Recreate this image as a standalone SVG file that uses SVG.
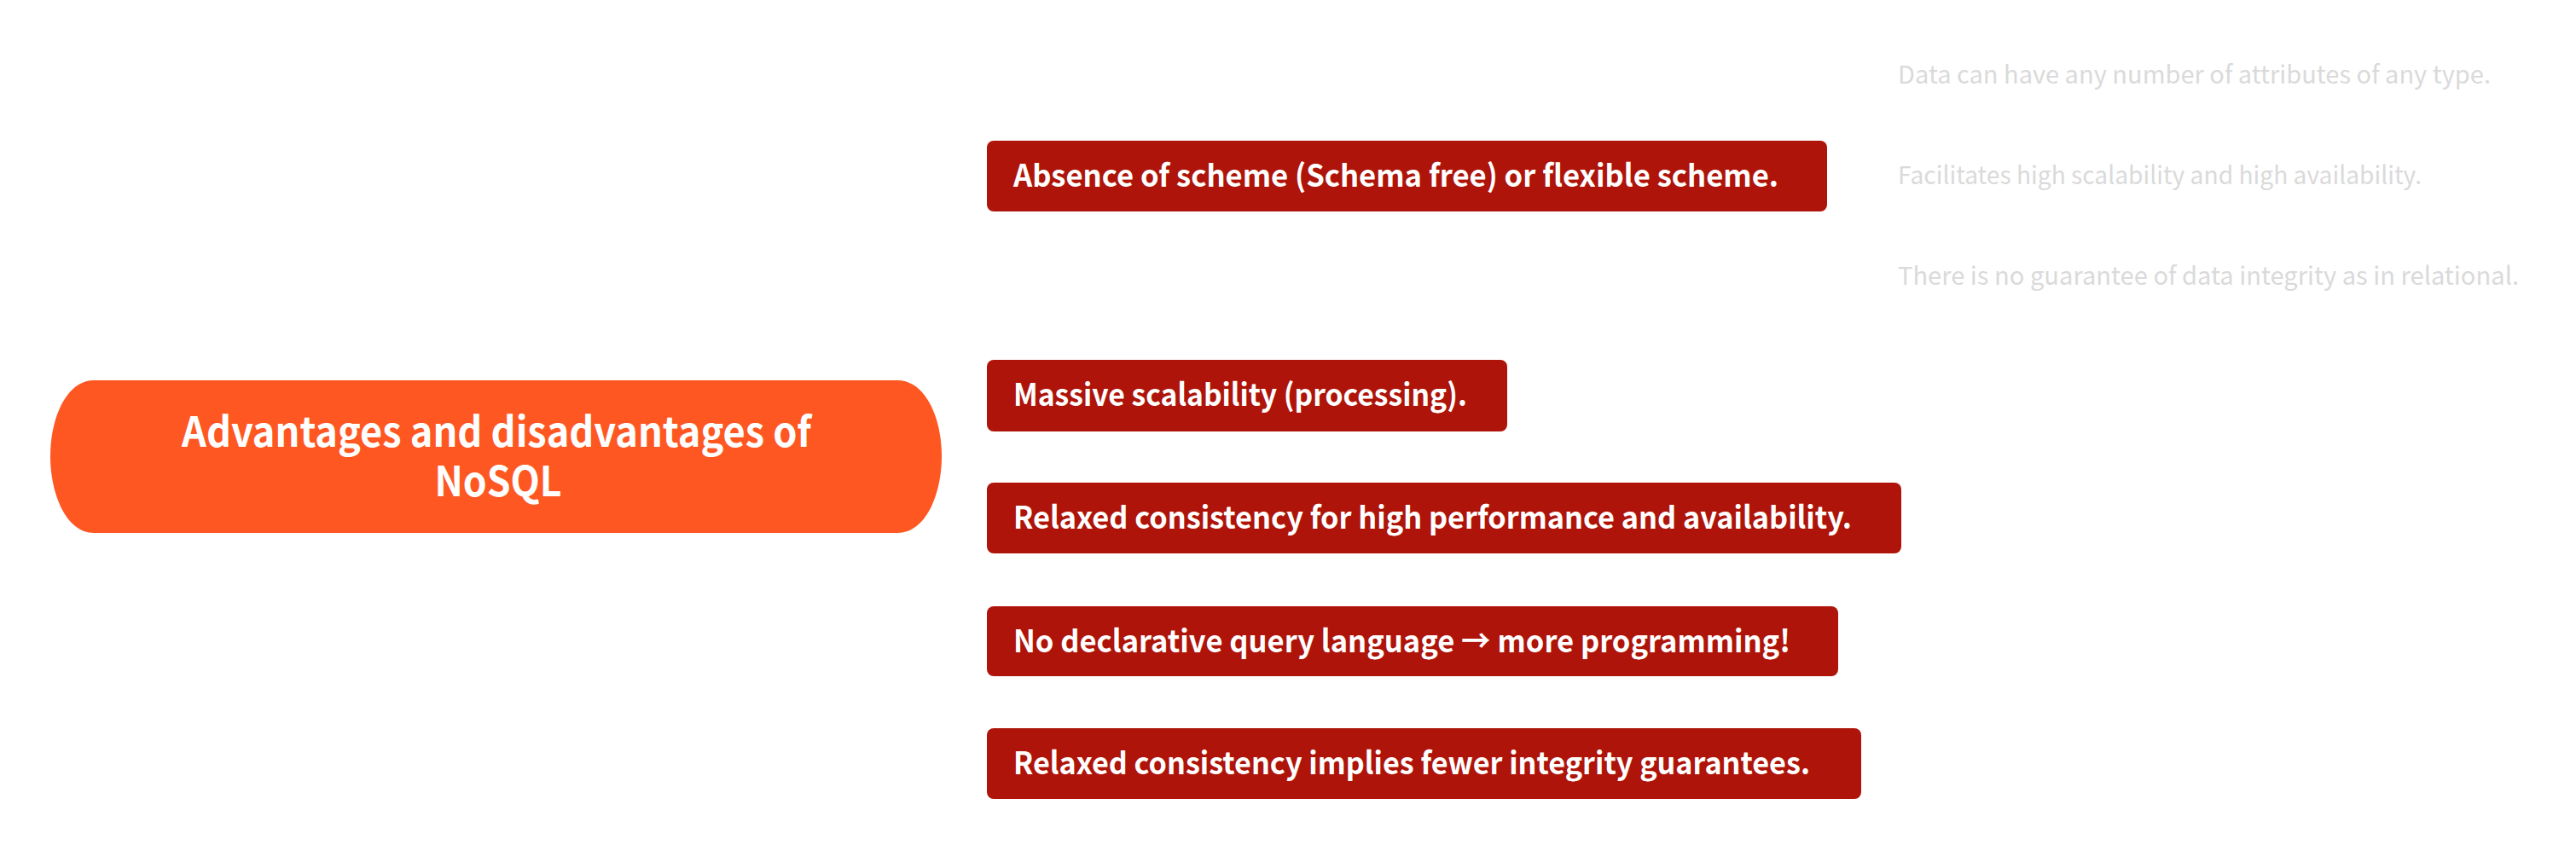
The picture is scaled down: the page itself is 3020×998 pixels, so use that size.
<svg xmlns="http://www.w3.org/2000/svg" width="3020" height="998" viewBox="0 0 3020 998">
<style>
.bg{fill:#FFFFFF}
.root{fill:#FE5722}
.box{fill:#AE1409}
.t{font-family:"Noto Sans CJK SC","Noto Sans",sans-serif}
.rt{fill:#FFFFFF;font-size:48px;font-weight:600;text-anchor:middle}
.bt{fill:#FFFFFF;font-size:36px;font-weight:600}
.gt{fill:#DADADA;font-size:29px;font-weight:400}
</style>
<rect class="bg" x="0" y="0" width="3020" height="998"/>
<g id="connectors"></g>
<g id="root">
<path class="root" d="M110,446 H1052 C1085,446 1104,490 1104,535 C1104,580 1085,625 1052,625 H110 C78,625 59,580 59,535 C59,490 78,446 110,446 Z"/>
<text class="t rt" x="582" y="524" textLength="738" lengthAdjust="spacingAndGlyphs">Advantages and disadvantages of</text>
<text class="t rt" x="584" y="582" textLength="149" lengthAdjust="spacingAndGlyphs">NoSQL</text>
</g>
<g id="n1">
<rect class="box" x="1157" y="165" width="985" height="83" rx="8"/>
<text class="t bt" x="1188" y="219" textLength="897" lengthAdjust="spacingAndGlyphs">Absence of scheme (Schema free) or flexible scheme.</text>
</g>
<g id="n1a"><text class="t gt" x="2225" y="98" textLength="695" lengthAdjust="spacingAndGlyphs">Data can have any number of attributes of any type.</text></g>
<g id="n1b"><text class="t gt" x="2225" y="216" textLength="614" lengthAdjust="spacingAndGlyphs">Facilitates high scalability and high availability.</text></g>
<g id="n1c"><text class="t gt" x="2225" y="334" textLength="728" lengthAdjust="spacingAndGlyphs">There is no guarantee of data integrity as in relational.</text></g>
<g id="n2">
<rect class="box" x="1157" y="422" width="610" height="84" rx="8"/>
<text class="t bt" x="1188" y="476" textLength="532" lengthAdjust="spacingAndGlyphs">Massive scalability (processing).</text>
</g>
<g id="n3">
<rect class="box" x="1157" y="566" width="1072" height="83" rx="8"/>
<text class="t bt" x="1188" y="620" textLength="983" lengthAdjust="spacingAndGlyphs">Relaxed consistency for high performance and availability.</text>
</g>
<g id="n4">
<rect class="box" x="1157" y="711" width="998" height="82" rx="8"/>
<text class="t bt" x="1188" y="765" textLength="911" lengthAdjust="spacingAndGlyphs">No declarative query language → more programming!</text>
</g>
<g id="n5">
<rect class="box" x="1157" y="854" width="1025" height="83" rx="8"/>
<text class="t bt" x="1188" y="908" textLength="934" lengthAdjust="spacingAndGlyphs">Relaxed consistency implies fewer integrity guarantees.</text>
</g>
</svg>
